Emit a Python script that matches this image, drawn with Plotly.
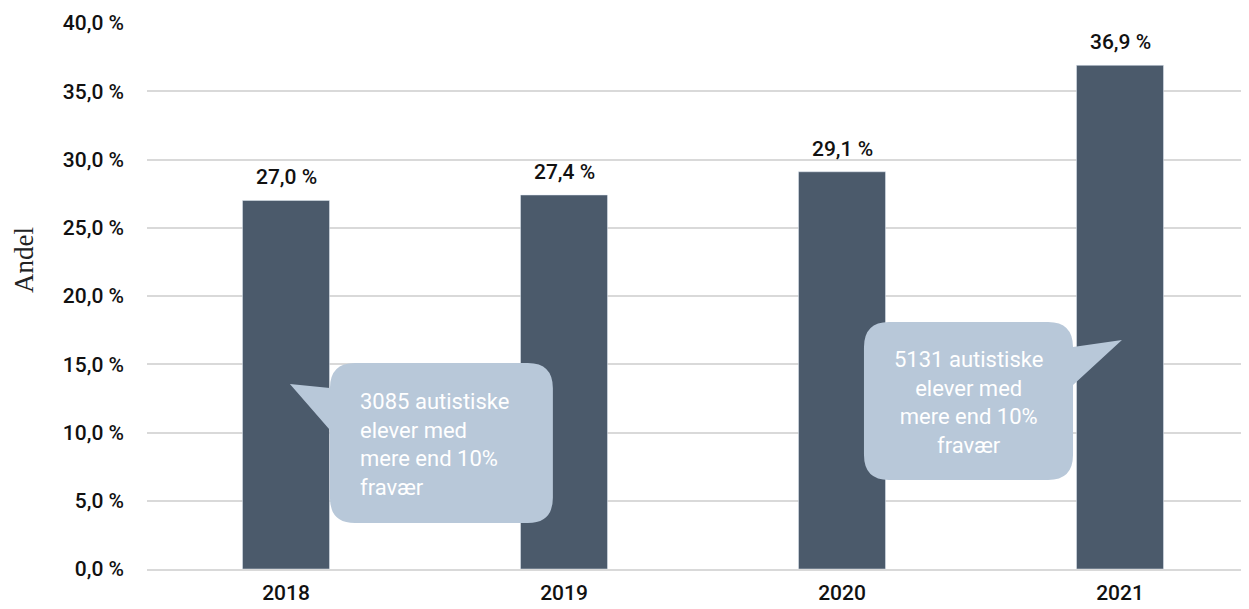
import plotly.graph_objects as go

# data
years = ["2018", "2019", "2020", "2021"]
andel = [27.0, 27.4, 29.1, 36.9]
labels = ["27,0 %", "27,4 %", "29,1 %", "36,9 %"]
y_ticks = [0, 5, 10, 15, 20, 25, 30, 35, 40]
y_ticktext = ["0,0 %", "5,0 %", "10,0 %", "15,0 %", "20,0 %", "25,0 %", "30,0 %", "35,0 %", "40,0 %"]
callout_texts = [
    "3085 autistiske<br>elever med<br>mere end 10%<br>fravær",
    "5131 autistiske<br>elever med<br>mere end 10%<br>fravær",
]

BAR = "#4b5a6b"
BUBBLE = "#b8c8d9"
GRID = "#d9d9d9"
FONT = "Roboto"

x = list(range(len(years)))

fig = go.Figure(go.Bar(x=x, y=andel, width=0.313, marker_color=BAR,
                       hoverinfo="skip"))

# value labels over the bars
for xi, v, t in zip(x, andel, labels):
    fig.add_annotation(x=xi, y=v, text=t, showarrow=False, yanchor="bottom",
                       yshift=9, font=dict(family=FONT, size=21, color="#111", weight=500))


def bubble(x0, x1, y0, y1, tail, rx=0.09, ry=1.85):
    # rounded box with a pointed tail; tail = (side, tip_x, tip_y, base_top, base_bottom)
    side, tx, ty, bt, bb = tail
    p = f"M {x0+rx},{y1} L {x1-rx},{y1} Q {x1},{y1} {x1},{y1-ry} "
    if side == "right":
        p += f"L {x1},{bt} L {tx},{ty} L {x1},{bb} "
    p += f"L {x1},{y0+ry} Q {x1},{y0} {x1-rx},{y0} L {x0+rx},{y0} Q {x0},{y0} {x0},{y0+ry} "
    if side == "left":
        p += f"L {x0},{bb} L {tx},{ty} L {x0},{bt} "
    p += f"L {x0},{y1-ry} Q {x0},{y1} {x0+rx},{y1} Z"
    return p


fig.add_shape(type="path", path=bubble(0.158, 0.960, 3.37, 15.09, ("left", 0.014, 13.55, 13.26, 10.18)),
              fillcolor=BUBBLE, line_width=0, layer="above")
fig.add_shape(type="path", path=bubble(2.079, 2.831, 6.52, 18.1, ("right", 3.007, 16.78, 16.26, 13.48)),
              fillcolor=BUBBLE, line_width=0, layer="above")

fig.add_annotation(x=0.259, y=9.1, text=callout_texts[0], showarrow=False, xanchor="left",
                   align="left", font=dict(family=FONT, size=22, color="white", weight=400))
fig.add_annotation(x=2.455, y=12.2, text=callout_texts[1], showarrow=False, xanchor="center",
                   align="center", font=dict(family=FONT, size=22, color="white", weight=400))

# y axis title
fig.add_annotation(x=-0.1116, xref="paper", y=0.566, yref="paper", text="Andel",
                   xanchor="center", yanchor="middle",
                   showarrow=False, textangle=-90,
                   font=dict(family="Liberation Serif", size=27, color="#222", weight=400))

fig.update_layout(
    width=1241, height=601,
    margin=dict(l=139, r=0, t=15, b=40),
    plot_bgcolor="white", paper_bgcolor="white",
    showlegend=False,
    font=dict(family=FONT, size=21, color="#111", weight=500),
    xaxis=dict(range=[-0.5, 3.464], tickvals=x, ticktext=years, showgrid=False,
               showline=True, linecolor=GRID, linewidth=1.5, ticks="",
               ticklabelstandoff=4, zeroline=False),
    yaxis=dict(range=[0, 40], tickvals=y_ticks, ticktext=y_ticktext, showgrid=True,
               gridcolor=GRID, gridwidth=1.5, zeroline=False, ticks="",
               ticklabelstandoff=22),
)

fig.write_html("out.html")
